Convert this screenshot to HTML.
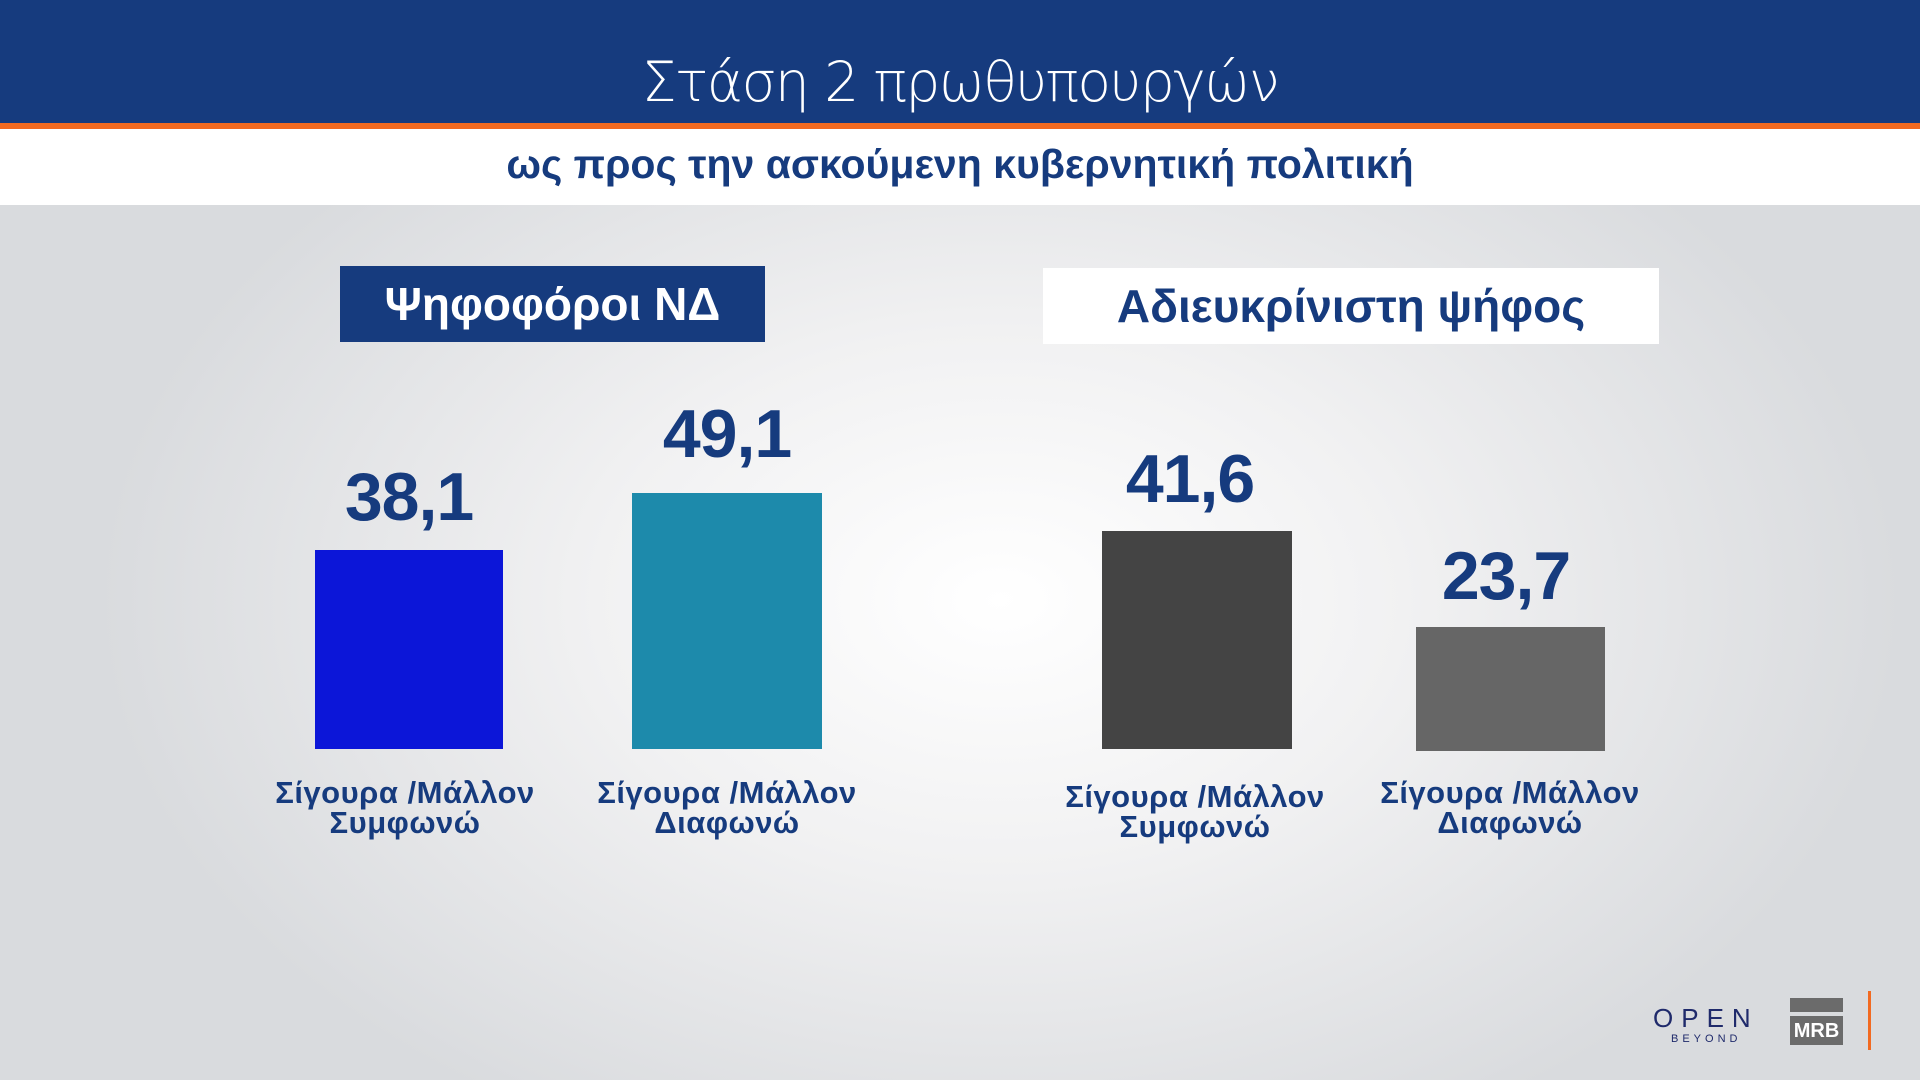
<!DOCTYPE html>
<html><head><meta charset="utf-8"><style>
body{margin:0;width:1920px;height:1080px;overflow:hidden;font-family:"Liberation Sans","DejaVu Sans",sans-serif;position:relative;
background:radial-gradient(ellipse 900px 600px at 1000px 600px,#ffffff 0%,#f1f1f2 45%,#d9dbde 100%);}
.a{position:absolute}
.hdr{left:0;top:0;width:1920px;height:123px;background:#163b7e}
.or{left:0;top:123px;width:1920px;height:6px;background:#f26a21}
.wb{left:0;top:129px;width:1920px;height:76px;background:#fff}
.t{left:0;width:1920px;text-align:center}
.bar{position:absolute}
.v{position:absolute;width:300px;text-align:center;font-weight:bold;font-size:68px;color:#163b7e;letter-spacing:-1px}
.c{position:absolute;width:360px;text-align:center;font-weight:bold;font-size:31px;line-height:30px;color:#163b7e;letter-spacing:0.5px}
</style></head><body>
<div class="a hdr"></div><div class="a or"></div><div class="a wb"></div>
<div class="a t" style="top:50px;font-size:55px;color:#fff;font-family:'DejaVu Sans',sans-serif;font-weight:200;letter-spacing:-1.5px">Στάση 2 πρωθυπουργών</div>
<div class="a t" style="top:141px;font-size:41px;font-weight:bold;color:#163b7e">ως προς την ασκούμενη κυβερνητική πολιτική</div>
<div class="a" style="left:340px;top:266px;width:425px;height:76px;background:#163b7e;color:#fff;font-weight:bold;font-size:46px;text-align:center;line-height:76px">Ψηφοφόροι ΝΔ</div>
<div class="a" style="left:1043px;top:268px;width:616px;height:76px;background:#fff;color:#163b7e;font-weight:bold;font-size:46px;text-align:center;line-height:76px">Αδιευκρίνιστη ψήφος</div>
<div class="bar" style="left:315px;top:550px;width:188px;height:199px;background:#0c16d8"></div>
<div class="bar" style="left:632px;top:493px;width:190px;height:256px;background:#1d8aab"></div>
<div class="bar" style="left:1102px;top:531px;width:190px;height:218px;background:#444"></div>
<div class="bar" style="left:1416px;top:627px;width:189px;height:124px;background:#666"></div>
<div class="v" style="left:259px;top:458px">38,1</div>
<div class="v" style="left:577px;top:395px">49,1</div>
<div class="v" style="left:1040px;top:440px">41,6</div>
<div class="v" style="left:1356px;top:537px">23,7</div>
<div class="c" style="left:225px;top:778px">Σίγουρα /Μάλλον<br>Συμφωνώ</div>
<div class="c" style="left:547px;top:778px">Σίγουρα /Μάλλον<br>Διαφωνώ</div>
<div class="c" style="left:1015px;top:782px">Σίγουρα /Μάλλον<br>Συμφωνώ</div>
<div class="c" style="left:1330px;top:778px">Σίγουρα /Μάλλον<br>Διαφωνώ</div>
<div class="a" style="left:1653px;top:1003px;font-size:26px;color:#1f2a6b;letter-spacing:8px">OPEN</div>
<div class="a" style="left:1671px;top:1033px;font-size:11px;color:#1f2a6b;letter-spacing:4px">BEYOND</div>
<div class="a" style="left:1790px;top:998px;width:53px;height:14px;background:#6b6b6b"></div>
<div class="a" style="left:1790px;top:1016px;width:53px;height:29px;background:#6b6b6b;color:#fff;font-weight:bold;font-size:20px;text-align:center;line-height:30px">MRB</div>
<div class="a" style="left:1868px;top:991px;width:3px;height:59px;background:#f26a21"></div>
</body></html>
